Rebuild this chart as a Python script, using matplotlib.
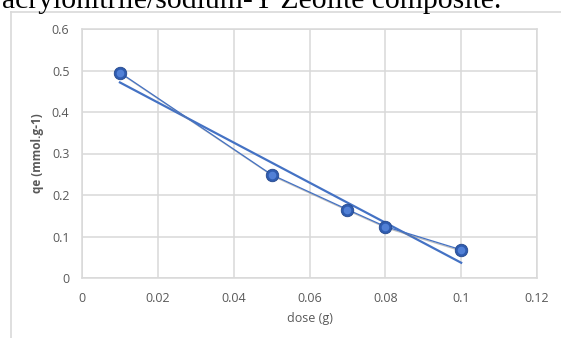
import matplotlib.pyplot as plt
import matplotlib.patheffects as pe
from matplotlib.lines import Line2D
import numpy as np

# adsorbent dose vs. equilibrium uptake
dose = [0.01, 0.05, 0.07, 0.08, 0.1]
qe = [0.495, 0.249, 0.165, 0.124, 0.068]

xticks = [0, 0.02, 0.04, 0.06, 0.08, 0.1, 0.12]
xticklabels = ['0', '0.02', '0.04', '0.06', '0.08', '0.1', '0.12']
yticks = [0, 0.1, 0.2, 0.3, 0.4, 0.5, 0.6]
yticklabels = ['0', '0.1', '0.2', '0.3', '0.4', '0.5', '0.6']

W, H = 561, 338
fig = plt.figure(figsize=(W / 100, H / 100), dpi=100)

# caption line from the document, cut at the top
fig.text(0.004, 1 - 7.5 / H, 'acrylonitrile/sodium-Y Zeolite composite.',
         family='Liberation Serif', fontsize=21.3, color='black', va='baseline')

# chart frame
grey = '#d9d9d9'
fig.add_artist(Line2D([11 / W, 1], [1 - 12 / H, 1 - 12 / H], color=grey, lw=1.2))
fig.add_artist(Line2D([11 / W, 11 / W], [0, 1 - 12 / H], color=grey, lw=1.2))

ax = fig.add_axes([82 / W, 1 - 278 / H, (537 - 82) / W, (278 - 29) / H])
ax.set_xlim(0, 0.12)
ax.set_ylim(0, 0.6)
ax.set_xticks(xticks)
ax.set_xticklabels(xticklabels)
ax.set_yticks(yticks)
ax.set_yticklabels(yticklabels)
ax.grid(True, color=grey, lw=1.1)
ax.set_axisbelow(True)
for s in ax.spines.values():
    s.set_color(grey)
    s.set_linewidth(1.1)
ax.tick_params(length=0, labelsize=9, labelcolor='#595959')
for lab in ax.get_xticklabels() + ax.get_yticklabels():
    lab.set_family('Open Sans')
ax.tick_params(axis='x', pad=10)
ax.tick_params(axis='y', pad=9)

ax.set_xlabel('dose (g)', family='Open Sans', fontsize=9, color='#595959', labelpad=5)
ax.set_ylabel('qe (mmol.g-1)', family='Open Sans', fontsize=8.5, color='#595959',
              fontweight='bold', labelpad=6)

blue = '#4472C4'
shadow = [pe.SimpleLineShadow(offset=(1.2, -1.2), shadow_color='#7f7f7f', alpha=0.5),
          pe.Normal()]

# linear trendline over the dose range
k, b = np.polyfit(dose, qe, 1)
xt = np.array([min(dose), max(dose)])
ax.plot(xt, k * xt + b, color=blue, lw=1.6, zorder=3)

# measured points joined by a thin line
ax.plot(dose, qe, color=blue, lw=0.9, zorder=4, path_effects=shadow)
ax.plot(dose, qe, ls='none', marker='o', ms=9, mfc='#2f5cb0', mec='#24488c',
        mew=0.6, zorder=5)
ax.plot(dose, qe, ls='none', marker='o', ms=5.5, mfc='#5a8ae0', mec='none', zorder=6,
        alpha=0.8)

fig.savefig('out.png', dpi=100)
